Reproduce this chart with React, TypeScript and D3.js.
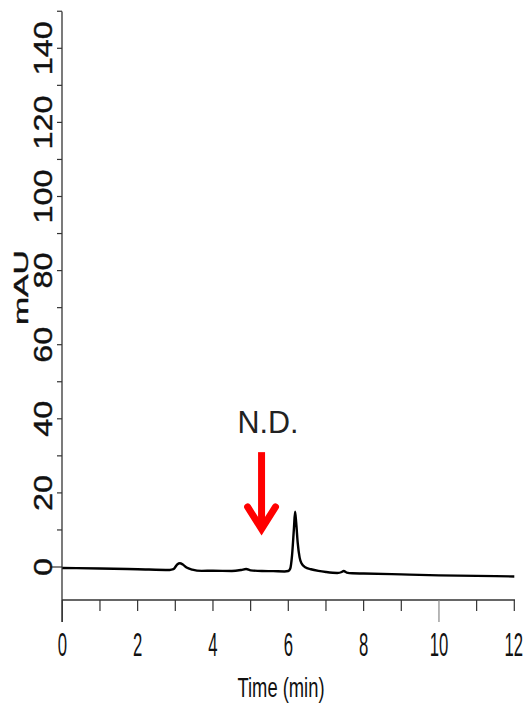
import React from "react";
import * as d3 from "d3";

const W = 527;
const H = 705;

// chromatogram trace (time in min, absorbance in mAU)
const times = [0, 1.0, 2.0, 2.85, 2.95, 3.05, 3.12, 3.2, 3.3, 3.45, 3.7, 4.0, 4.5, 4.75, 4.88, 5.0, 5.3, 5.6, 5.9, 6.0, 6.05, 6.1, 6.15, 6.18, 6.21, 6.25, 6.3, 6.35, 6.45, 6.6, 6.8, 7.0, 7.3, 7.42, 7.47, 7.55, 7.7, 8, 9, 10, 11, 12];
const signal = [-0.25, -0.4, -0.6, -0.8, -0.6, 0.67, 1.0, 0.67, -0.15, -0.7, -1.05, -1.0, -1.08, -0.8, -0.55, -0.9, -1.08, -1.12, -1.2, -1.08, -0.5, 3.2, 10.5, 14.9, 11.9, 6.5, 2.6, 1.0, -0.1, -0.6, -1.05, -1.35, -1.6, -1.35, -1.08, -1.5, -1.7, -1.75, -2.0, -2.25, -2.4, -2.55];

const yTickLabels = [0, 20, 40, 60, 80, 100, 120, 140];
const yMinorTicks = [10, 30, 50, 70, 90, 110, 130, 150];
const xTickLabels = [0, 2, 4, 6, 8, 10, 12];
const xMinorTicks = [0, 1, 2, 3, 4, 5, 6, 7, 8, 9, 10, 11, 12];
const xLongTicks = [0, 10];

const annotationText = "N.D.";
const arrowTime = 5.29;
const arrowTop = 31;
const arrowTip = 9.2;
const arrowHeadBase = 16.2;
const arrowHeadHalfWidth = 0.37;

export default function App() {
  const x = d3.scaleLinear().domain([0, 12]).range([62.3, 514.3]);
  const y = d3.scaleLinear().domain([0, 140]).range([567, 48.3]);

  const data = times.map((t, i) => [t, signal[i]] as [number, number]);
  const line = d3
    .line<[number, number]>()
    .x((d) => x(d[0]))
    .y((d) => y(d[1]))
    .curve(d3.curveMonotoneX);

  const axisColor = "#333";
  const font = "'Liberation Sans', Arial, sans-serif";

  return (
    <svg
      width={W}
      height={H}
      style={{ position: "absolute", left: 0, top: 0, background: "#fff" }}
    >
      <rect x={0} y={0} width={W} height={H} fill="#fff" />
      {/* Y axis */}
      <line x1={62} x2={62} y1={11.5} y2={622} stroke={axisColor} strokeWidth={1.3} />
      {yMinorTicks.map((v) => (
        <line key={"ym" + v} x1={57} x2={62} y1={y(v)} y2={y(v)} stroke={axisColor} strokeWidth={1.2} />
      ))}
      {yTickLabels.map((v) => (
        <line key={"yt" + v} x1={v === 0 ? 50 : 57} x2={62} y1={y(v)} y2={y(v)} stroke={axisColor} strokeWidth={1.2} />
      ))}
      {yTickLabels.map((v) => {
        const s = String(v);
        return (
          <text
            key={"yl" + v}
            transform={`translate(52,${y(v)}) rotate(-90)`}
            textAnchor="middle"
            fontFamily={font}
            fontSize={26}
            fill="#111"
            stroke="#111"
            strokeWidth={0.4}
            textLength={18 * s.length}
            lengthAdjust="spacingAndGlyphs"
          >
            {s}
          </text>
        );
      })}
      <text
        transform={`translate(28,287.5) rotate(-90)`}
        textAnchor="middle"
        fontFamily={font}
        fontSize={21}
        fill="#111"
        stroke="#111"
        strokeWidth={0.4}
        textLength={75}
        lengthAdjust="spacingAndGlyphs"
      >
        mAU
      </text>

      {/* X axis */}
      <line x1={62} x2={515} y1={600} y2={600} stroke={axisColor} strokeWidth={1.3} />
      {xMinorTicks.map((t) => (
        <line
          key={"xt" + t}
          x1={x(t)}
          x2={x(t)}
          y1={600}
          y2={xLongTicks.includes(t) ? 622 : 611}
          stroke={t === 10 ? "#888" : axisColor}
          strokeWidth={1.2}
        />
      ))}
      {xTickLabels.map((t) => {
        const s = String(t);
        return (
          <text
            key={"xl" + t}
            x={t === 12 ? x(t) - 0.5 : x(t)}
            y={656}
            textAnchor="middle"
            fontFamily={font}
            fontSize={34}
            fill="#111"
            textLength={9.3 * s.length}
            lengthAdjust="spacingAndGlyphs"
          >
            {s}
          </text>
        );
      })}
      <text
        x={281}
        y={697}
        textAnchor="middle"
        fontFamily={font}
        fontSize={28}
        fill="#111"
        textLength={87}
        lengthAdjust="spacingAndGlyphs"
      >
        Time (min)
      </text>

      {/* trace */}
      <path d={line(data) || ""} fill="none" stroke="#000" strokeWidth={2.4} strokeLinejoin="round" />

      {/* annotation */}
      <text
        x={268}
        y={433}
        textAnchor="middle"
        fontFamily={font}
        fontSize={31}
        fill="#222"
        textLength={61}
        lengthAdjust="spacingAndGlyphs"
      >
        {annotationText}
      </text>
      <line
        x1={x(arrowTime)}
        x2={x(arrowTime)}
        y1={y(arrowTop)}
        y2={y(arrowTip) - 6}
        stroke="#ff0000"
        strokeWidth={7}
      />
      <polyline
        points={`${x(arrowTime - arrowHeadHalfWidth)},${y(arrowHeadBase)} ${x(arrowTime)},${y(arrowTip) - 4} ${x(arrowTime + arrowHeadHalfWidth)},${y(arrowHeadBase)}`}
        fill="none"
        stroke="#ff0000"
        strokeWidth={7}
        strokeLinejoin="miter"
        strokeLinecap="round"
      />
    </svg>
  );
}
